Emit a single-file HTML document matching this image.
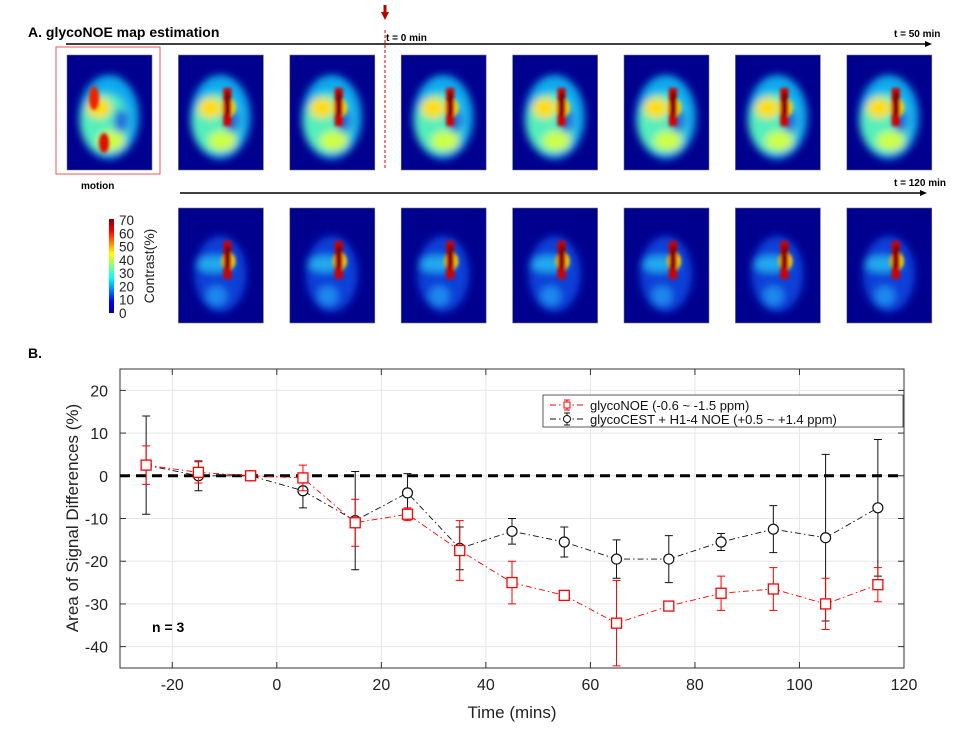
<!DOCTYPE html>
<html><head><meta charset="utf-8"><style>
body{margin:0;background:#fff}
svg{display:block;font-family:"Liberation Sans",Arial,sans-serif}
</style></head><body>
<svg id="fig" width="975" height="741" viewBox="0 0 975 741" xmlns="http://www.w3.org/2000/svg">
<defs>
<filter id="blur" x="-50%" y="-50%" width="200%" height="200%"><feGaussianBlur stdDeviation="4"/></filter>
<filter id="blur2" x="-50%" y="-50%" width="200%" height="200%"><feGaussianBlur stdDeviation="1.5"/></filter>
<linearGradient id="jet" x1="0" y1="1" x2="0" y2="0">
<stop offset="0" stop-color="#00008f"/><stop offset="0.12" stop-color="#0000ff"/><stop offset="0.37" stop-color="#00ffff"/><stop offset="0.5" stop-color="#80ff80"/><stop offset="0.63" stop-color="#ffff00"/><stop offset="0.87" stop-color="#ff0000"/><stop offset="1" stop-color="#800000"/>
</linearGradient>
</defs>
<text x="28" y="37" font-size="14" font-weight="bold">A. glycoNOE map estimation</text>
<g id="panelA"></g>
<line x1="385" y1="30" x2="385" y2="168" stroke="#d00" stroke-dasharray="3,2"/>
<path d="M385 20 L381 12 L383.5 12 L383.5 5 L386.5 5 L386.5 12 L389 12 Z" fill="#b00"/>
<line x1="66" y1="44" x2="926" y2="44" stroke="#000" stroke-width="1.5"/>
<path d="M932 44 L925 41 L925 47 Z"/>
<line x1="180" y1="193" x2="921" y2="193" stroke="#000" stroke-width="1.5"/>
<path d="M927 193 L920 190 L920 196 Z"/>
<text x="386" y="41" font-size="10" font-weight="bold">t = 0 min</text>
<text x="894" y="37" font-size="10" font-weight="bold">t = 50 min</text>
<text x="894" y="186" font-size="10" font-weight="bold">t = 120 min</text>
<rect x="56" y="47" width="104" height="127" fill="none" stroke="#e55" stroke-width="1"/>
<text x="81" y="189" font-size="10" font-weight="bold">motion</text>
<rect x="109" y="219" width="5" height="94" fill="url(#jet)"/>
<g id="cbticks" fill="#222"></g>
<text transform="translate(154,266) rotate(-90)" font-size="14" text-anchor="middle" fill="#222">Contrast(%)</text>

<text x="28" y="358" font-size="14" font-weight="bold">B.</text>
<g id="chart"></g>
</svg>
<script>
const NS="http://www.w3.org/2000/svg";
function mk(tag,attrs,parent){const e=document.createElementNS(NS,tag);for(const k in attrs)e.setAttribute(k,attrs[k]);parent.appendChild(e);return e;}
const cbTicks=[0,10,20,30,40,50,60,70];
const cbg=document.getElementById('cbticks');
cbTicks.forEach(v=>{const t=mk('text',{x:119,y:318-v/70*93,'font-size':13.5},cbg);t.textContent=v;

});

const pA=document.getElementById('panelA');
function panel(x,y,strong,idx){
  const g=mk('g',{},pA);
  
  
  mk('rect',{x:x,y:y,width:85,height:115,fill:'#00008f',stroke:'#777','stroke-width':0.6},g);
  const cx=x+42,cy=y+58;
  const bl=mk('g',{filter:'url(#blur)'},g);
  if(strong){
    mk('ellipse',{cx:cx,cy:cy+4,rx:30,ry:42,fill:'#11aaee'},bl);
    mk('ellipse',{cx:cx-4,cy:cy+10,rx:24,ry:30,fill:'#55eebb'},bl);
    mk('ellipse',{cx:cx-10,cy:cy-5,rx:12,ry:10,fill:'#ffdd00'},bl);
    mk('ellipse',{cx:cx+2,cy:cy+28,rx:14,ry:10,fill:'#ccff44'},bl);
    mk('ellipse',{cx:cx+12,cy:cy+8,rx:7,ry:12,fill:'#2266dd'},bl);
  } else {
    mk('ellipse',{cx:cx,cy:cy+8,rx:26,ry:38,fill:'#0a3fd8'},bl);
    mk('ellipse',{cx:cx-6,cy:cy-2,rx:18,ry:8,fill:'#22aaee'},bl);
    mk('ellipse',{cx:cx-4,cy:cy+30,rx:10,ry:10,fill:'#1a88ee'},bl);
  }
  const b2=mk('g',{filter:'url(#blur2)'},g);
  if(idx===0){
    mk('ellipse',{cx:cx-15,cy:cy-15,rx:5,ry:12,fill:'#ee2200'},b2);
    mk('ellipse',{cx:cx-5,cy:cy+30,rx:5,ry:10,fill:'#dd1100'},b2);
  } else {
    mk('ellipse',{cx:cx+8,cy:cy-5,rx:7,ry:9,fill:'#ffcc00'},b2);
    mk('rect',{x:cx+3,y:cy-25,width:8,height:38,fill:'#d00000'},b2);
    mk('rect',{x:cx+5,y:cy-20,width:5,height:22,fill:'#7a0000'},b2);
  }
}
for(let i=0;i<8;i++) panel(67+i*111.4,55,true,i);
for(let i=1;i<8;i++) panel(67+i*111.4,208,false,i);

// ===== Chart data =====
const times=[-25,-15,-5,5,15,25,35,45,55,65,75,85,95,105,115];
const noeMean=[2.5,0.8,0,-0.5,-11,-9,-17.5,-25,-28,-34.5,-30.5,-27.5,-26.5,-30,-25.5];
const noeErr=[4.5,2.5,0.5,3,5.5,1.5,7,5,1,10,0.5,4,5,6,4];
const cestMean=[2.5,0,0,-3.5,-10.5,-4,-17,-13,-15.5,-19.5,-19.5,-15.5,-12.5,-14.5,-7.5];
const cestErr=[11.5,3.5,0.5,4,11.5,4.5,5,3,3.5,4.5,5.5,2,5.5,19.5,16];
const xTicks=[-20,0,20,40,60,80,100,120];
const yTicks=[-40,-30,-20,-10,0,10,20];

const L=120,R=904,T=369,B=668,xmin=-30,xmax=120,ymin=-45,ymax=25;
const X=v=>L+(v-xmin)/(xmax-xmin)*(R-L);
const Y=v=>B-(v-ymin)/(ymax-ymin)*(B-T);
const ch=document.getElementById('chart');
xTicks.forEach(v=>{const l=mk('line',{x1:X(v),x2:X(v),y1:T,y2:B,stroke:'#e6e6e6'},ch);

});
yTicks.forEach(v=>{const l=mk('line',{x1:L,x2:R,y1:Y(v),y2:Y(v),stroke:'#e6e6e6'},ch);

});
const box=mk('rect',{x:L,y:T,width:R-L,height:B-T,fill:'none',stroke:'#333','stroke-width':1},ch);


xTicks.forEach(v=>{mk('line',{x1:X(v),x2:X(v),y1:B,y2:B-6,stroke:'#333'},ch);mk('line',{x1:X(v),x2:X(v),y1:T,y2:T+6,stroke:'#333'},ch);
const t=mk('text',{x:X(v),y:B+22,'text-anchor':'middle','font-size':16,fill:'#222'},ch);t.textContent=v;

});
yTicks.forEach(v=>{mk('line',{x1:L,x2:L+6,y1:Y(v),y2:Y(v),stroke:'#333'},ch);mk('line',{x1:R,x2:R-6,y1:Y(v),y2:Y(v),stroke:'#333'},ch);
const t=mk('text',{x:L-12,y:Y(v)+6,'text-anchor':'end','font-size':16,fill:'#222'},ch);t.textContent=v;

});
const zl=mk('line',{x1:L,x2:R,y1:Y(0),y2:Y(0),stroke:'#000','stroke-width':3,'stroke-dasharray':'10,6'},ch);



function series(mean,err,color,shape,name){
  const g=mk('g',{},ch);
  
  
  mk('polyline',{points:times.map((t,i)=>X(t)+','+Y(mean[i])).join(' '),fill:'none',stroke:color,'stroke-width':0.9,'stroke-dasharray':'6,3,1.5,3'},g);
  times.forEach((t,i)=>{
    const x=X(t),y1=Y(mean[i]+err[i]),y2=Y(mean[i]-err[i]);
    const e=mk('path',{d:`M${x} ${y1}V${y2}M${x-4} ${y1}H${x+4}M${x-4} ${y2}H${x+4}`,stroke:color,'stroke-width':1,fill:'none'},g);
    
    
    let m;
    if(shape==='sq') m=mk('rect',{x:x-5,y:Y(mean[i])-5,width:10,height:10,fill:'#fff',stroke:color,'stroke-width':1.3},g);
    else m=mk('circle',{cx:x,cy:Y(mean[i]),r:5,fill:'#fff',stroke:color,'stroke-width':1.2},g);
    
    
  });
}
series(cestMean,cestErr,'#111','circ','glycocest-series');
series(noeMean,noeErr,'#f00','sq','glyconoe-series');

const lg=mk('g',{},ch);


mk('rect',{x:543,y:395,width:360,height:32,fill:'#fff',stroke:'#333','stroke-width':0.8},lg);
mk('line',{x1:550,x2:583,y1:405,y2:405,stroke:'#f00','stroke-dasharray':'6,3,1.5,3'},lg);
mk('path',{d:'M567 400V410M564 400H570M564 410H570',stroke:'#f00'},lg);
mk('rect',{x:564,y:402,width:6,height:6,fill:'#fff',stroke:'#f00'},lg);
mk('line',{x1:550,x2:583,y1:419,y2:419,stroke:'#111','stroke-dasharray':'6,3,1.5,3'},lg);
mk('path',{d:'M567 413V425M564 413H570M564 425H570',stroke:'#111'},lg);
mk('circle',{cx:567,cy:419,r:3.5,fill:'#fff',stroke:'#111'},lg);
let t1=mk('text',{x:590,y:410,'font-size':13,fill:'#111'},lg);t1.textContent='glycoNOE (-0.6 ~ -1.5 ppm)';


let t2=mk('text',{x:590,y:424,'font-size':13,fill:'#111'},lg);t2.textContent='glycoCEST + H1-4 NOE (+0.5 ~ +1.4 ppm)';



let n=mk('text',{x:152,y:632,'font-size':14,'font-weight':'bold'},ch);n.textContent='n = 3';


let xt=mk('text',{x:512,y:718,'text-anchor':'middle','font-size':17,fill:'#222'},ch);xt.textContent='Time (mins)';


let yt=mk('text',{transform:'translate(78,518) rotate(-90)','text-anchor':'middle','font-size':17,fill:'#222'},ch);yt.textContent='Area of Signal Differences (%)';


</script>
</body></html>
